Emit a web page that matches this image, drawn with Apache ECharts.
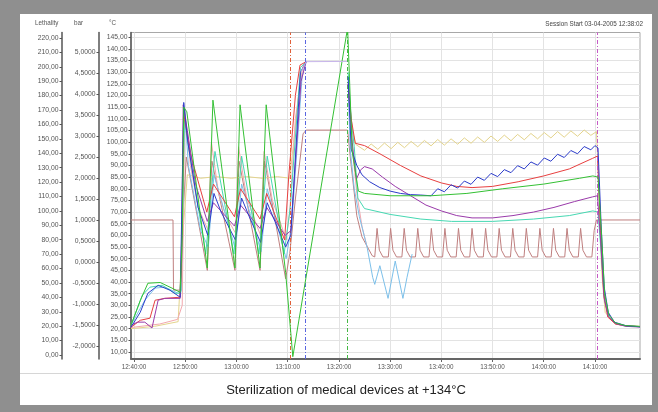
<!DOCTYPE html>
<html><head><meta charset="utf-8">
<script src="https://cdn.jsdelivr.net/npm/echarts@6/dist/echarts.min.js"></script>
<style>html,body{margin:0;padding:0;background:#8f8f8f}#c{width:658px;height:412px}</style>
</head><body><div id="c"></div>
<script>
// ---- tick labels ----
const xTickValues = [0,10,20,30,40,50,60,70,80,90]; // minutes after 12:40
const xTickLabels = ['12:40:00','12:50:00','13:00:00','13:10:00','13:20:00','13:30:00','13:40:00','13:50:00','14:00:00','14:10:00'];
const tempTicks = [10,15,20,25,30,35,40,45,50,55,60,65,70,75,80,85,90,95,100,105,110,115,120,125,130,135,140,145];
const barTicks = [-2,-1.5,-1,-0.5,0,0.5,1,1.5,2,2.5,3,3.5,4,4.5,5];
const lethTicks = [0,10,20,30,40,50,60,70,80,90,100,110,120,130,140,150,160,170,180,190,200,210,220];

// ---- phase markers (minutes) ----
const phaseMarkers = [30.5, 33.4, 41.6, 90.4];
const phaseColors = ['#e0603a', '#5a66e0', '#45b845', '#c65ac6'];

// ---- series values [minute, °C]; [m, null] = gap ----
const green = [[-0.6,21.5],[1.2,32],[2.7,39.5],[5.1,39.8],[7.4,37.4],[9.0,35.6],[9.4,60],[9.7,115],[10.3,113],[14.3,46],[15.4,118],[19.7,46],[20.7,116],[24.6,46],[25.8,116],[29.6,44],[31.0,8],[41.7,149],[42.6,96],[43.8,79],[45,78],[50,77],[58,77],[65,78],[72,80],[80,82],[87,84.5],[89.6,85.5],[90.6,85],[91.3,60],[91.9,35],[92.7,26],[94,22.5],[96,21.3],[98.8,21]];
const aqua = [[-0.6,21.5],[1.6,34.3],[3.1,37.8],[5.5,38.6],[8,35.2],[9.1,35.2],[9.5,70],[9.8,110],[10.5,100],[14.0,52],[15.8,96],[19.5,52],[21.0,94],[24.4,52],[26.0,94],[29.3,52],[30.5,72],[32.5,132],[33.6,134.5],[37,null],[41.8,130],[42.4,110],[43.0,98],[43.7,76],[45,71.5],[50,69],[56,67],[62,66],[70,66],[78,67],[85,68.5],[89.6,70.5],[90.6,70],[91.3,50],[91.9,32],[92.7,25],[94,22.3],[96,21.2],[98.8,20.9]];
const blue = [[-0.6,20.6],[1.2,27],[2.7,35.2],[4.7,38.6],[7,36.5],[9.0,33.5],[9.4,80],[9.7,117],[10.5,100],[12.5,72],[14.4,60],[15.6,78],[17,70],[19.8,58],[21,76],[22.5,68],[24.7,57],[26,74],[27.5,66],[29.6,55],[30.6,60],[32.5,130],[33.6,134.5],[37,null],[41.8,128],[42.4,97],[43.5,90],[44.5,86],[46,83],[48,80.5],[50,79],[52,78],[54,77.5],[56,77.3],[58.0,77.0],[59.3,80.0],[60.6,78.7],[61.9,81.7],[63.2,80.3],[64.5,83.3],[65.8,81.9],[67.1,85.0],[68.4,83.6],[69.7,86.6],[71.0,85.2],[72.3,88.2],[73.6,86.9],[74.9,89.9],[76.2,88.5],[77.5,91.5],[78.8,90.1],[80.1,93.2],[81.4,91.8],[82.7,94.8],[84.0,93.4],[85.3,96.4],[86.6,95.0],[87.9,98.1],[89.2,96.7],[90.0,98.5],[90.6,97.5],[91.2,65],[91.8,38],[92.6,27],[93.8,22.8],[96,21.3],[98.8,20.8]];
const lightBlue = [[-0.6,21.5],[2.1,32.2],[4.1,37.4],[6,37.8],[8.6,35.2],[9.2,36],[9.6,90],[9.9,114],[10.6,90],[13,62],[14.5,55],[15.6,86],[19.8,54],[21,82],[24.8,53],[26,80],[29.7,50],[30.8,65],[32.8,128],[33.6,134.5],[37,null],[41.8,125],[42.2,97],[43,80],[44,68],[45.5,55],[46.6,42],[47,39],[48,47],[49.6,33],[51,49],[52.5,33],[53.3,42],[54.3,52]];
const purple = [[-0.6,21.5],[0.7,22.8],[2.1,22.8],[3.5,20.3],[4.7,32.2],[6.0,33.0],[9.0,33.0],[9.3,60],[9.6,116],[10.4,105],[12,82],[14.3,66],[15.5,74],[19.6,64],[20.8,73],[24.6,63],[25.9,72],[29.5,60],[30.6,62],[32.6,126],[33.6,134.5],[37,null],[41.8,125],[42.6,100],[43.4,84],[44.2,88],[45,89.5],[46.5,88.5],[48.5,85],[51,81],[54,77],[57,73],[60,70.5],[63,68.5],[66,67.5],[70,67.5],[74,68.5],[78,70],[82,72],[86,74.5],[89.5,76.5],[90.5,77],[91.2,55],[91.8,33],[92.6,25.5],[94,22.2],[96,21],[98.8,20.7]];
const red = [[-0.6,20.6],[1.2,23.6],[3.1,24.5],[4.1,32.2],[6.0,33],[9.0,33.5],[9.3,50],[9.7,112],[11,95],[14.2,70],[15.5,82],[19.6,68],[20.8,80],[24.6,67],[25.9,78],[29.4,58],[30.2,85],[31.5,120],[32.4,133],[33.6,134.5],[37,null],[41.8,125],[42.4,110],[43.2,99.5],[45,98.5],[48,95],[52,90],[56,85.5],[60,82.5],[63,81],[66,80.5],[70,81],[75,83],[80,85.5],[85,88.5],[89.5,93],[90.5,94],[91.1,62],[91.7,35],[92.5,25],[94,22],[96,21.2],[98.8,20.9]];
const tan = [[-0.6,20],[4,21],[8.6,23],[9.5,60],[10.4,86],[13,84.5],[16,85.2],[19,84.5],[22,85.2],[25,84.5],[28,85.2],[30.4,84.5],[31.4,105],[32.6,130],[33.6,134.5],[37,null],[41.8,120],[42.6,105],[43.3,99],[45.0,96.5],[46.3,99.2],[47.6,96.9],[48.9,99.6],[50.2,97.2],[51.5,99.9],[52.8,97.6],[54.1,100.3],[55.4,98.0],[56.7,100.7],[58.0,98.4],[59.3,101.1],[60.6,98.7],[61.9,101.4],[63.2,99.1],[64.5,101.8],[65.8,99.5],[67.1,102.2],[68.4,99.9],[69.7,102.6],[71.0,100.3],[72.3,103.0],[73.6,100.6],[74.9,103.3],[76.2,101.0],[77.5,103.7],[78.8,101.4],[80.1,104.1],[81.4,101.8],[82.7,104.5],[84.0,102.1],[85.3,104.8],[86.6,102.5],[87.9,105.2],[89.2,102.9],[90.3,104.5],[90.8,80],[91.3,45],[92,27],[94,22],[96,21.3],[98.8,21]];
const pink = [[-0.6,20.5],[5,22],[8.5,24],[9.4,30],[9.9,114],[11,90],[12.5,72],[14.5,62],[15.1,100],[16.5,78],[18,68],[19.8,61],[20.4,98],[22,76],[23.5,67],[24.7,60],[25.4,96],[27,75],[28.5,66],[29.7,58],[30.4,70],[31.5,110],[33,133],[33.6,134.5],[37,null],[41.8,120],[42.5,100],[43.5,78],[44.5,64],[45.5,55]];
const lavender = [[32.6,130],[33.6,134.5],[41.6,134.6]];
// pressure [minute, bar]
const pressure = [[-0.6,1.0],[7.6,1.0],[7.7,-0.67],[9.2,-0.67],[9.6,1.2],[10.2,2.5],[14.3,-0.2],[15.2,2.4],[19.7,-0.2],[20.5,2.4],[24.6,-0.2],[25.5,2.4],[29.6,-0.4],[30.4,0.2],[31.5,1.5],[33.0,3.05],[33.6,3.14],[41.7,3.14],[42.3,2.4],[43.5,1.1],[44.5,0.6],[46.5,0.15],
[47.0,0.12],[47.45,0.8],[47.9,0.28],[48.6,0.12],[49.65,0.12],[50.1,0.8],[50.55,0.28],[51.25,0.12],[52.3,0.12],[52.75,0.8],[53.2,0.28],[53.9,0.12],[54.95,0.12],[55.4,0.8],[55.85,0.28],[56.55,0.12],[57.6,0.12],[58.05,0.8],[58.5,0.28],[59.2,0.12],[60.25,0.12],[60.7,0.8],[61.15,0.28],[61.85,0.12],[62.9,0.12],[63.35,0.8],[63.8,0.28],[64.5,0.12],[65.55,0.12],[66.0,0.8],[66.45,0.28],[67.15,0.12],[68.2,0.12],[68.65,0.8],[69.1,0.28],[69.8,0.12],[70.85,0.12],[71.3,0.8],[71.75,0.28],[72.45,0.12],[73.5,0.12],[73.95,0.8],[74.4,0.28],[75.1,0.12],[76.15,0.12],[76.6,0.8],[77.05,0.28],[77.75,0.12],[78.8,0.12],[79.25,0.8],[79.7,0.28],[80.4,0.12],[81.45,0.12],[81.9,0.8],[82.35,0.28],[83.05,0.12],[84.1,0.12],[84.55,0.8],[85.0,0.28],[85.7,0.12],[86.75,0.12],[87.2,0.8],[87.65,0.28],[88.35,0.12],[89.4,0.12],[89.85,0.75],[90.3,1.0],[98.8,1.0]];

const FONT = '"Liberation Sans", Arial, sans-serif';
const comma = (v, d) => v.toFixed(d).replace('.', ',');

function line(name, data, color, z, yIdx) {
  return { name, type: 'line', data, yAxisIndex: yIdx || 0, symbol: 'none', showSymbol: false, connectNulls: false,
    lineStyle: { color, width: 1 }, z, clip: true, animation: false, silent: true };
}

const series = [
  line('pressure', pressure, '#bf7f7f', 2, 1),
  line('tan', tan, '#e4d48c', 3),
  line('pink', pink, '#f2a8ae', 3),
  line('lightBlue', lightBlue, '#7cc0ea', 3),
  line('aqua', aqua, '#46d8b2', 4),
  line('red', red, '#e84040', 4),
  line('purple', purple, '#9a3aaa', 5),
  line('blue', blue, '#2c3cca', 5),
  line('green', green, '#34c034', 6),
  line('lavender', lavender, '#c8b6ea', 7)
];
series[0].markLine = {
  symbol: ['none', 'none'], silent: true, animation: false, label: { show: false },
  data: phaseMarkers.map((m, i) => ({ xAxis: m, lineStyle: { color: phaseColors[i], type: [4, 2, 1, 2], width: 1 } }))
};

const labelStyle = { fontSize: 6.8, color: '#555', fontFamily: FONT };
const option = {
  backgroundColor: '#8f8f8f',
  animation: false,
  grid: { left: 131, right: 18, top: 32.5, bottom: 53, show: true, borderColor: '#a8a8a8', borderWidth: 1 },
  xAxis: {
    type: 'value', min: -0.6, max: 98.8,
    axisLine: { onZero: false, lineStyle: { color: '#666', width: 2 } },
    axisTick: { show: true, customValues: xTickValues, length: 3, lineStyle: { color: '#666' } },
    axisLabel: Object.assign({}, labelStyle, { customValues: xTickValues, margin: 5, fontSize: 6.3,
      formatter: v => xTickLabels[Math.round(v / 10)] }),
    splitLine: { show: true, lineStyle: { color: '#e3e3e3', width: 1 } }
  },
  yAxis: [
    { type: 'value', position: 'left', offset: 0, min: 7, max: 147,
      axisLine: { show: true, onZero: false, lineStyle: { color: '#555', width: 1.5 } },
      axisTick: { show: true, customValues: tempTicks, length: 2.5, lineStyle: { color: '#555' } },
      axisLabel: Object.assign({ customValues: tempTicks, margin: 3.5, formatter: v => comma(v, 2) }, labelStyle),
      splitLine: { show: true, lineStyle: { color: '#e3e3e3', width: 1 } } },
    { type: 'value', position: 'left', offset: 32, min: -2.31, max: 5.464,
      axisLine: { show: true, onZero: false, lineStyle: { color: '#555', width: 1.5 } },
      axisTick: { show: true, customValues: barTicks, length: 2.5, lineStyle: { color: '#555' } },
      axisLabel: Object.assign({ customValues: barTicks, margin: 3.5, formatter: v => comma(v, 4) }, labelStyle),
      splitLine: { show: false } },
    { type: 'value', position: 'left', offset: 69, min: -2.78, max: 223.8,
      axisLine: { show: true, onZero: false, lineStyle: { color: '#555', width: 1.5 } },
      axisTick: { show: true, customValues: lethTicks, length: 2.5, lineStyle: { color: '#555' } },
      axisLabel: Object.assign({ customValues: lethTicks, margin: 3.5, formatter: v => comma(v, 2) }, labelStyle),
      splitLine: { show: false } }
  ],
  series,
  graphic: [
    { type: 'rect', z: -100, silent: true, shape: { x: 20, y: 14, width: 632, height: 391 }, style: { fill: '#ffffff' } },
    { type: 'line', silent: true, shape: { x1: 20, y1: 373.5, x2: 652, y2: 373.5 }, style: { stroke: '#d6d6d6', lineWidth: 1 } },
    { type: 'text', silent: true, x: 346, y: 390, style: { text: 'Sterilization of medical devices at +134°C', fontSize: 13, fontFamily: FONT, fill: '#222',
      align: 'center', verticalAlign: 'middle', textAlign: 'center', textVerticalAlign: 'middle' } },
    { type: 'text', silent: true, x: 35, y: 23, style: { text: 'Lethality', fontSize: 6.3, fontFamily: FONT, fill: '#555', verticalAlign: 'middle', textVerticalAlign: 'middle' } },
    { type: 'text', silent: true, x: 74, y: 23, style: { text: 'bar', fontSize: 6.3, fontFamily: FONT, fill: '#555', verticalAlign: 'middle', textVerticalAlign: 'middle' } },
    { type: 'text', silent: true, x: 109, y: 23, style: { text: '°C', fontSize: 6.3, fontFamily: FONT, fill: '#555', verticalAlign: 'middle', textVerticalAlign: 'middle' } },
    { type: 'text', silent: true, x: 643, y: 24, style: { text: 'Session Start 03-04-2005 12:38:02', fontSize: 6.3, fontFamily: FONT, fill: '#444',
      align: 'right', verticalAlign: 'middle', textAlign: 'right', textVerticalAlign: 'middle' } }
  ]
};

const chart = echarts.init(document.getElementById('c'), null, { renderer: 'canvas' });
chart.setOption(option);
</script>
</body></html>
